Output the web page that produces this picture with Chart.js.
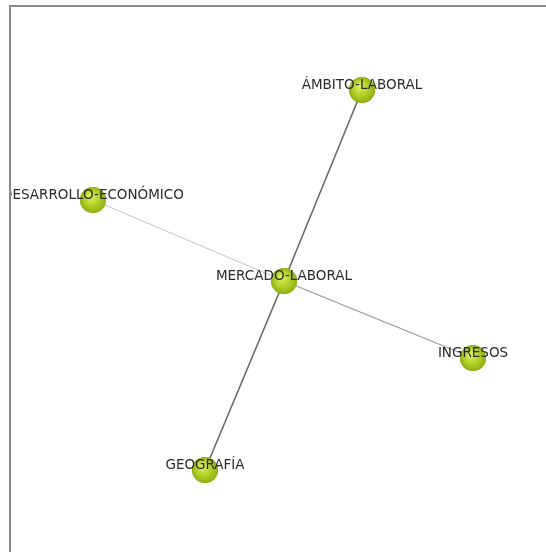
<!DOCTYPE html>
<html>
<head>
<meta charset="utf-8">
<script src="https://cdn.jsdelivr.net/npm/chart.js@4.4.1/dist/chart.umd.min.js"></script>
<style>
  body { margin: 0; background: #fff; }
  #wrap { position: relative; width: 546px; height: 552px; }
</style>
</head>
<body>
<div id="wrap"><canvas id="netChart" width="546" height="552"></canvas></div>
<script>
// node layout (x, y in plot units)
const nodeNames = ['ÁMBITO-LABORAL', 'DESARROLLO-ECONÓMICO', 'MERCADO-LABORAL', 'INGRESOS', 'GEOGRAFÍA'];
const nodeX = [362, 93, 284, 473, 205];
const nodeY = [90, 200, 281, 358, 470];

// edges all go out from MERCADO-LABORAL
const edgeFrom = [2, 2, 2, 2];
const edgeTo = [0, 4, 3, 1];
const edgeWeight = [3, 3, 2, 1];

const edgeColors = { 3: '#6a6a6a', 2: '#9a9a9a', 1: '#c4c4c4' };
const edgeWidths = { 3: 1.6, 2: 1.3, 1: 1 };

const frameLeft = 10, frameTop = 6;

const edgeSets = edgeFrom.map((f, i) => ({
  type: 'line',
  data: [{ x: nodeX[f], y: nodeY[f] }, { x: nodeX[edgeTo[i]], y: nodeY[edgeTo[i]] }],
  borderColor: edgeColors[edgeWeight[i]],
  borderWidth: edgeWidths[edgeWeight[i]],
  pointRadius: 0,
  showLine: true,
  order: 2
}));

// shading on the nodes, using the points the library placed
const nodeShade = {
  id: 'nodeShade',
  afterDatasetDraw(chart, args) {
    if (args.index !== 0) return;
    const c = chart.ctx;
    args.meta.data.forEach(pt => {
      const r = pt.options.radius;
      const g = c.createRadialGradient(pt.x - 3, pt.y - 4, 1, pt.x, pt.y, r);
      g.addColorStop(0, '#dcef64');
      g.addColorStop(0.5, '#b6d42a');
      g.addColorStop(1, '#8fae14');
      c.save();
      c.beginPath();
      c.arc(pt.x, pt.y, r, 0, Math.PI * 2);
      c.fillStyle = g;
      c.fill();
      c.restore();
    });
  }
};

// frame and labels drawn on top
const netDecor = {
  id: 'netDecor',
  afterDatasetsDraw(chart) {
    const c = chart.ctx;
    const xs = chart.scales.x, ys = chart.scales.y;
    c.save();
    c.beginPath();
    c.rect(frameLeft + 1, frameTop + 1, chart.width, chart.height);
    c.clip();
    c.font = '13.5px "DejaVu Sans"';
    c.fillStyle = '#2a2a2a';
    c.textAlign = 'center';
    c.textBaseline = 'middle';
    nodeNames.forEach((n, i) => {
      c.fillText(n, xs.getPixelForValue(nodeX[i]), ys.getPixelForValue(nodeY[i]) - 5);
    });
    c.restore();
    c.save();
    c.strokeStyle = '#8a8a8a';
    c.lineWidth = 2;
    c.beginPath();
    c.moveTo(frameLeft, chart.height);
    c.lineTo(frameLeft, frameTop);
    c.lineTo(chart.width, frameTop);
    c.stroke();
    c.restore();
  }
};

new Chart(document.getElementById('netChart'), {
  type: 'scatter',
  data: {
    datasets: [{
      data: nodeX.map((x, i) => ({ x: x, y: nodeY[i] })),
      pointRadius: 13,
      pointHoverRadius: 13,
      backgroundColor: '#a6c418',
      borderWidth: 0,
      order: 1
    }].concat(edgeSets)
  },
  options: {
    responsive: false,
    animation: false,
    layout: { padding: 0, autoPadding: false },
    plugins: { legend: { display: false }, tooltip: { enabled: false } },
    scales: {
      x: { type: 'linear', min: 0, max: 546, display: false },
      y: { type: 'linear', min: 0, max: 552, reverse: true, display: false }
    }
  },
  plugins: [nodeShade, netDecor]
});
</script>
</body>
</html>
